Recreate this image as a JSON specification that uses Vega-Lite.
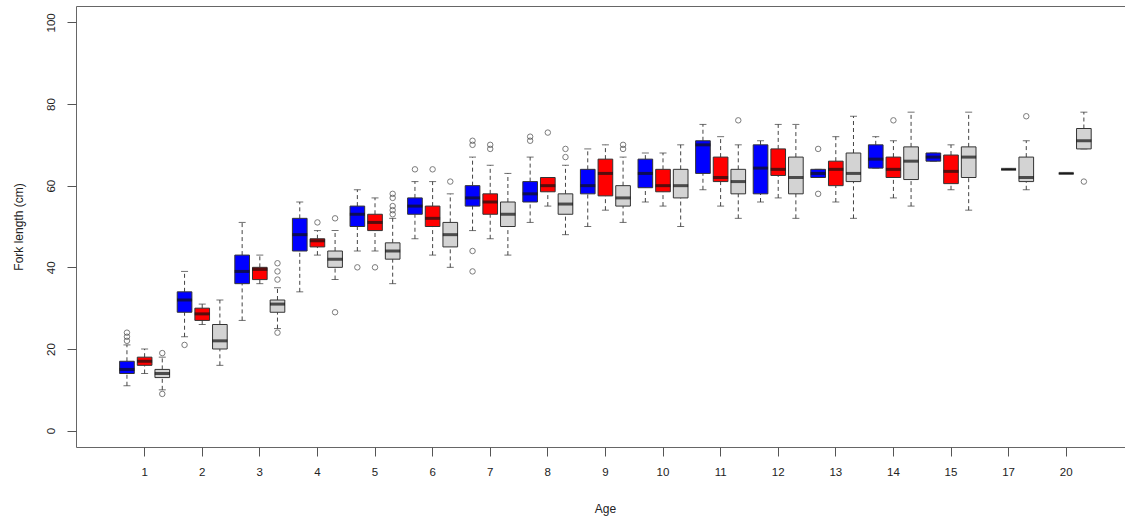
{
  "$schema": "https://vega.github.io/schema/vega-lite/v6.json",
  "autosize": {"type": "none"},
  "padding": {"left": 76, "top": 6, "right": 0, "bottom": 74},
  "width": 1049,
  "height": 441,
  "background": "white",
  "config": {
    "view": {"stroke": "#666", "strokeWidth": 1},
    "font": "Liberation Sans",
    "axisY": {
      "grid": false,
      "domain": false,
      "tickSize": 9,
      "tickColor": "#555",
      "labelAngle": -90,
      "labelAlign": "center",
      "labelBaseline": "alphabetic",
      "labelPadding": 13,
      "labelFontSize": 11.5,
      "labelColor": "#222",
      "titleFontSize": 12,
      "titleFontWeight": "normal",
      "titleColor": "#222",
      "titleAngle": -90,
      "titleX": -58,
      "titleY": 220.5,
      "titleAlign": "center",
      "titleBaseline": "middle"
    }
  },
  "datasets": {
    "boxes": [
      {"age": "1", "sex": "M", "lo": 11, "q1": 14, "med": 15, "q3": 17, "hi": 21},
      {"age": "1", "sex": "F", "lo": 14, "q1": 16, "med": 17, "q3": 18, "hi": 20},
      {"age": "1", "sex": "U", "lo": 10, "q1": 13, "med": 14, "q3": 15, "hi": 18},
      {"age": "2", "sex": "M", "lo": 23, "q1": 29, "med": 32, "q3": 34, "hi": 39},
      {"age": "2", "sex": "F", "lo": 26, "q1": 27, "med": 28.6, "q3": 30, "hi": 31},
      {"age": "2", "sex": "U", "lo": 16, "q1": 20, "med": 22, "q3": 26, "hi": 32},
      {"age": "3", "sex": "M", "lo": 27, "q1": 36, "med": 39, "q3": 43, "hi": 51},
      {"age": "3", "sex": "F", "lo": 36, "q1": 37, "med": 39.5, "q3": 40, "hi": 43},
      {"age": "3", "sex": "U", "lo": 25, "q1": 29, "med": 31, "q3": 32, "hi": 35},
      {"age": "4", "sex": "M", "lo": 34, "q1": 44, "med": 48, "q3": 52, "hi": 56},
      {"age": "4", "sex": "F", "lo": 43, "q1": 45, "med": 46.5, "q3": 47, "hi": 49},
      {"age": "4", "sex": "U", "lo": 37, "q1": 40, "med": 42, "q3": 44, "hi": 49},
      {"age": "5", "sex": "M", "lo": 44, "q1": 50, "med": 53, "q3": 55, "hi": 59},
      {"age": "5", "sex": "F", "lo": 44, "q1": 49, "med": 51, "q3": 53, "hi": 57},
      {"age": "5", "sex": "U", "lo": 36, "q1": 42, "med": 44, "q3": 46, "hi": 52},
      {"age": "6", "sex": "M", "lo": 47, "q1": 53, "med": 55, "q3": 57, "hi": 61},
      {"age": "6", "sex": "F", "lo": 43, "q1": 50, "med": 52, "q3": 55, "hi": 61},
      {"age": "6", "sex": "U", "lo": 40, "q1": 45, "med": 48, "q3": 51, "hi": 58},
      {"age": "7", "sex": "M", "lo": 49, "q1": 55, "med": 57, "q3": 60, "hi": 67},
      {"age": "7", "sex": "F", "lo": 47, "q1": 53, "med": 56, "q3": 58, "hi": 65},
      {"age": "7", "sex": "U", "lo": 43, "q1": 50, "med": 53, "q3": 56, "hi": 63},
      {"age": "8", "sex": "M", "lo": 51, "q1": 56, "med": 58, "q3": 61, "hi": 67},
      {"age": "8", "sex": "F", "lo": 55, "q1": 58.5, "med": 60, "q3": 62, "hi": 62},
      {"age": "8", "sex": "U", "lo": 48, "q1": 53, "med": 55.5, "q3": 58, "hi": 65},
      {"age": "9", "sex": "M", "lo": 50, "q1": 58, "med": 60, "q3": 64, "hi": 69},
      {"age": "9", "sex": "F", "lo": 54, "q1": 57.5, "med": 63, "q3": 66.5, "hi": 70},
      {"age": "9", "sex": "U", "lo": 51, "q1": 55, "med": 57, "q3": 60, "hi": 67},
      {"age": "10", "sex": "M", "lo": 56, "q1": 59.5, "med": 63, "q3": 66.5, "hi": 68},
      {"age": "10", "sex": "F", "lo": 55, "q1": 58.5, "med": 60, "q3": 64, "hi": 68},
      {"age": "10", "sex": "U", "lo": 50, "q1": 57, "med": 60, "q3": 64, "hi": 70},
      {"age": "11", "sex": "M", "lo": 59, "q1": 63, "med": 70, "q3": 71, "hi": 75},
      {"age": "11", "sex": "F", "lo": 55, "q1": 61, "med": 62, "q3": 67, "hi": 72},
      {"age": "11", "sex": "U", "lo": 52, "q1": 58, "med": 61, "q3": 64, "hi": 70},
      {"age": "12", "sex": "M", "lo": 56, "q1": 58, "med": 64.3, "q3": 70, "hi": 71},
      {"age": "12", "sex": "F", "lo": 57, "q1": 62.5, "med": 64, "q3": 69, "hi": 75},
      {"age": "12", "sex": "U", "lo": 52, "q1": 58, "med": 62, "q3": 67, "hi": 75},
      {"age": "13", "sex": "M", "lo": 62, "q1": 62, "med": 63, "q3": 64, "hi": 64},
      {"age": "13", "sex": "F", "lo": 56, "q1": 60, "med": 64, "q3": 66, "hi": 72},
      {"age": "13", "sex": "U", "lo": 52, "q1": 61, "med": 63, "q3": 68, "hi": 77},
      {"age": "14", "sex": "M", "lo": 64.3, "q1": 64.3, "med": 66.5, "q3": 70, "hi": 72},
      {"age": "14", "sex": "F", "lo": 57, "q1": 62, "med": 64, "q3": 67, "hi": 71},
      {"age": "14", "sex": "U", "lo": 55, "q1": 61.5, "med": 66, "q3": 69.5, "hi": 78},
      {"age": "15", "sex": "M", "lo": 66, "q1": 66, "med": 67, "q3": 68, "hi": 68},
      {"age": "15", "sex": "F", "lo": 59, "q1": 60.5, "med": 63.5, "q3": 67.5, "hi": 70},
      {"age": "15", "sex": "U", "lo": 54, "q1": 62, "med": 67, "q3": 69.5, "hi": 78},
      {"age": "17", "sex": "F", "lo": 64, "q1": 64, "med": 64, "q3": 64, "hi": 64},
      {"age": "17", "sex": "U", "lo": 59, "q1": 61, "med": 62, "q3": 67, "hi": 71},
      {"age": "20", "sex": "F", "lo": 63, "q1": 63, "med": 63, "q3": 63, "hi": 63},
      {"age": "20", "sex": "U", "lo": 69, "q1": 69, "med": 71, "q3": 74, "hi": 78}
    ],
    "outliers": [
      {"age": "1", "sex": "M", "v": 22}, {"age": "1", "sex": "M", "v": 23}, {"age": "1", "sex": "M", "v": 24},
      {"age": "1", "sex": "U", "v": 19}, {"age": "1", "sex": "U", "v": 9},
      {"age": "2", "sex": "M", "v": 21},
      {"age": "3", "sex": "U", "v": 41}, {"age": "3", "sex": "U", "v": 39}, {"age": "3", "sex": "U", "v": 37}, {"age": "3", "sex": "U", "v": 24},
      {"age": "4", "sex": "F", "v": 51},
      {"age": "4", "sex": "U", "v": 52}, {"age": "4", "sex": "U", "v": 29},
      {"age": "5", "sex": "M", "v": 40},
      {"age": "5", "sex": "F", "v": 40},
      {"age": "5", "sex": "U", "v": 53}, {"age": "5", "sex": "U", "v": 54}, {"age": "5", "sex": "U", "v": 55}, {"age": "5", "sex": "U", "v": 57}, {"age": "5", "sex": "U", "v": 58},
      {"age": "6", "sex": "M", "v": 64},
      {"age": "6", "sex": "F", "v": 64},
      {"age": "6", "sex": "U", "v": 61},
      {"age": "7", "sex": "M", "v": 71}, {"age": "7", "sex": "M", "v": 70}, {"age": "7", "sex": "M", "v": 44}, {"age": "7", "sex": "M", "v": 39},
      {"age": "7", "sex": "F", "v": 70}, {"age": "7", "sex": "F", "v": 69},
      {"age": "8", "sex": "M", "v": 72}, {"age": "8", "sex": "M", "v": 71},
      {"age": "8", "sex": "F", "v": 73},
      {"age": "8", "sex": "U", "v": 69}, {"age": "8", "sex": "U", "v": 67},
      {"age": "9", "sex": "U", "v": 70}, {"age": "9", "sex": "U", "v": 69},
      {"age": "11", "sex": "U", "v": 76},
      {"age": "13", "sex": "M", "v": 69}, {"age": "13", "sex": "M", "v": 58},
      {"age": "14", "sex": "F", "v": 76},
      {"age": "17", "sex": "U", "v": 77},
      {"age": "20", "sex": "U", "v": 61}
    ]
  },
  "encoding": {
    "x": {
      "field": "age",
      "type": "ordinal",
      "scale": {
        "type": "band",
        "domain": ["1", "2", "3", "4", "5", "6", "7", "8", "9", "10", "11", "12", "13", "14", "15", "17", "20"],
        "paddingInner": 0.08,
        "paddingOuter": 0.646,
        "align": 0.566
      },
      "axis": {
        "title": "Age",
        "domain": false,
        "grid": false,
        "tickSize": 9,
        "tickColor": "#555",
        "labelAngle": 0,
        "labelPadding": 10,
        "labelFontSize": 11.5,
        "labelColor": "#222",
        "titleFontSize": 12,
        "titleFontWeight": "normal",
        "titleColor": "#222",
        "titleX": 529,
        "titleY": 61,
        "titleAlign": "center",
        "titleBaseline": "middle"
      }
    },
    "xOffset": {
      "field": "sex",
      "type": "nominal",
      "scale": {"domain": ["M", "F", "U"], "paddingInner": 0.17, "paddingOuter": 0.085}
    }
  },
  "layer": [
    {
      "data": {"name": "boxes"},
      "mark": {"type": "rule", "color": "#444", "strokeWidth": 1, "strokeDash": [4, 3]},
      "encoding": {
        "y": {"field": "lo", "type": "quantitative", "scale": {"domain": [-4, 104], "nice": false, "zero": false}, "axis": {"title": "Fork length (cm)", "values": [0, 20, 40, 60, 80, 100]}},
        "y2": {"field": "q1"}
      }
    },
    {
      "data": {"name": "boxes"},
      "mark": {"type": "rule", "color": "#444", "strokeWidth": 1, "strokeDash": [4, 3]},
      "encoding": {
        "y": {"field": "q3", "type": "quantitative", "axis": {"title": "Fork length (cm)", "values": [0, 20, 40, 60, 80, 100]}},
        "y2": {"field": "hi"}
      }
    },
    {
      "data": {"name": "boxes"},
      "mark": {"type": "tick", "color": "#333", "size": 7, "thickness": 1},
      "encoding": {
        "y": {"field": "lo", "type": "quantitative", "axis": {"title": "Fork length (cm)", "values": [0, 20, 40, 60, 80, 100]}}
      }
    },
    {
      "data": {"name": "boxes"},
      "mark": {"type": "tick", "color": "#333", "size": 7, "thickness": 1},
      "encoding": {
        "y": {"field": "hi", "type": "quantitative", "axis": {"title": "Fork length (cm)", "values": [0, 20, 40, 60, 80, 100]}}
      }
    },
    {
      "data": {"name": "boxes"},
      "mark": {"type": "bar", "stroke": "#333", "strokeWidth": 1},
      "encoding": {
        "y": {"field": "q1", "type": "quantitative", "axis": {"title": "Fork length (cm)", "values": [0, 20, 40, 60, 80, 100]}},
        "y2": {"field": "q3"},
        "color": {
          "field": "sex",
          "type": "nominal",
          "scale": {"domain": ["M", "F", "U"], "range": ["#0000ff", "#ff0000", "#d3d3d3"]},
          "legend": null
        }
      }
    },
    {
      "data": {"name": "boxes"},
      "mark": {"type": "tick", "color": "#111", "size": 15, "thickness": 3},
      "encoding": {
        "y": {"field": "med", "type": "quantitative", "axis": {"title": "Fork length (cm)", "values": [0, 20, 40, 60, 80, 100]}}
      }
    },
    {
      "data": {"name": "outliers"},
      "mark": {"type": "point", "shape": "circle", "filled": false, "size": 30, "stroke": "#444", "strokeWidth": 1},
      "encoding": {
        "y": {"field": "v", "type": "quantitative", "axis": {"title": "Fork length (cm)", "values": [0, 20, 40, 60, 80, 100]}}
      }
    }
  ]
}
